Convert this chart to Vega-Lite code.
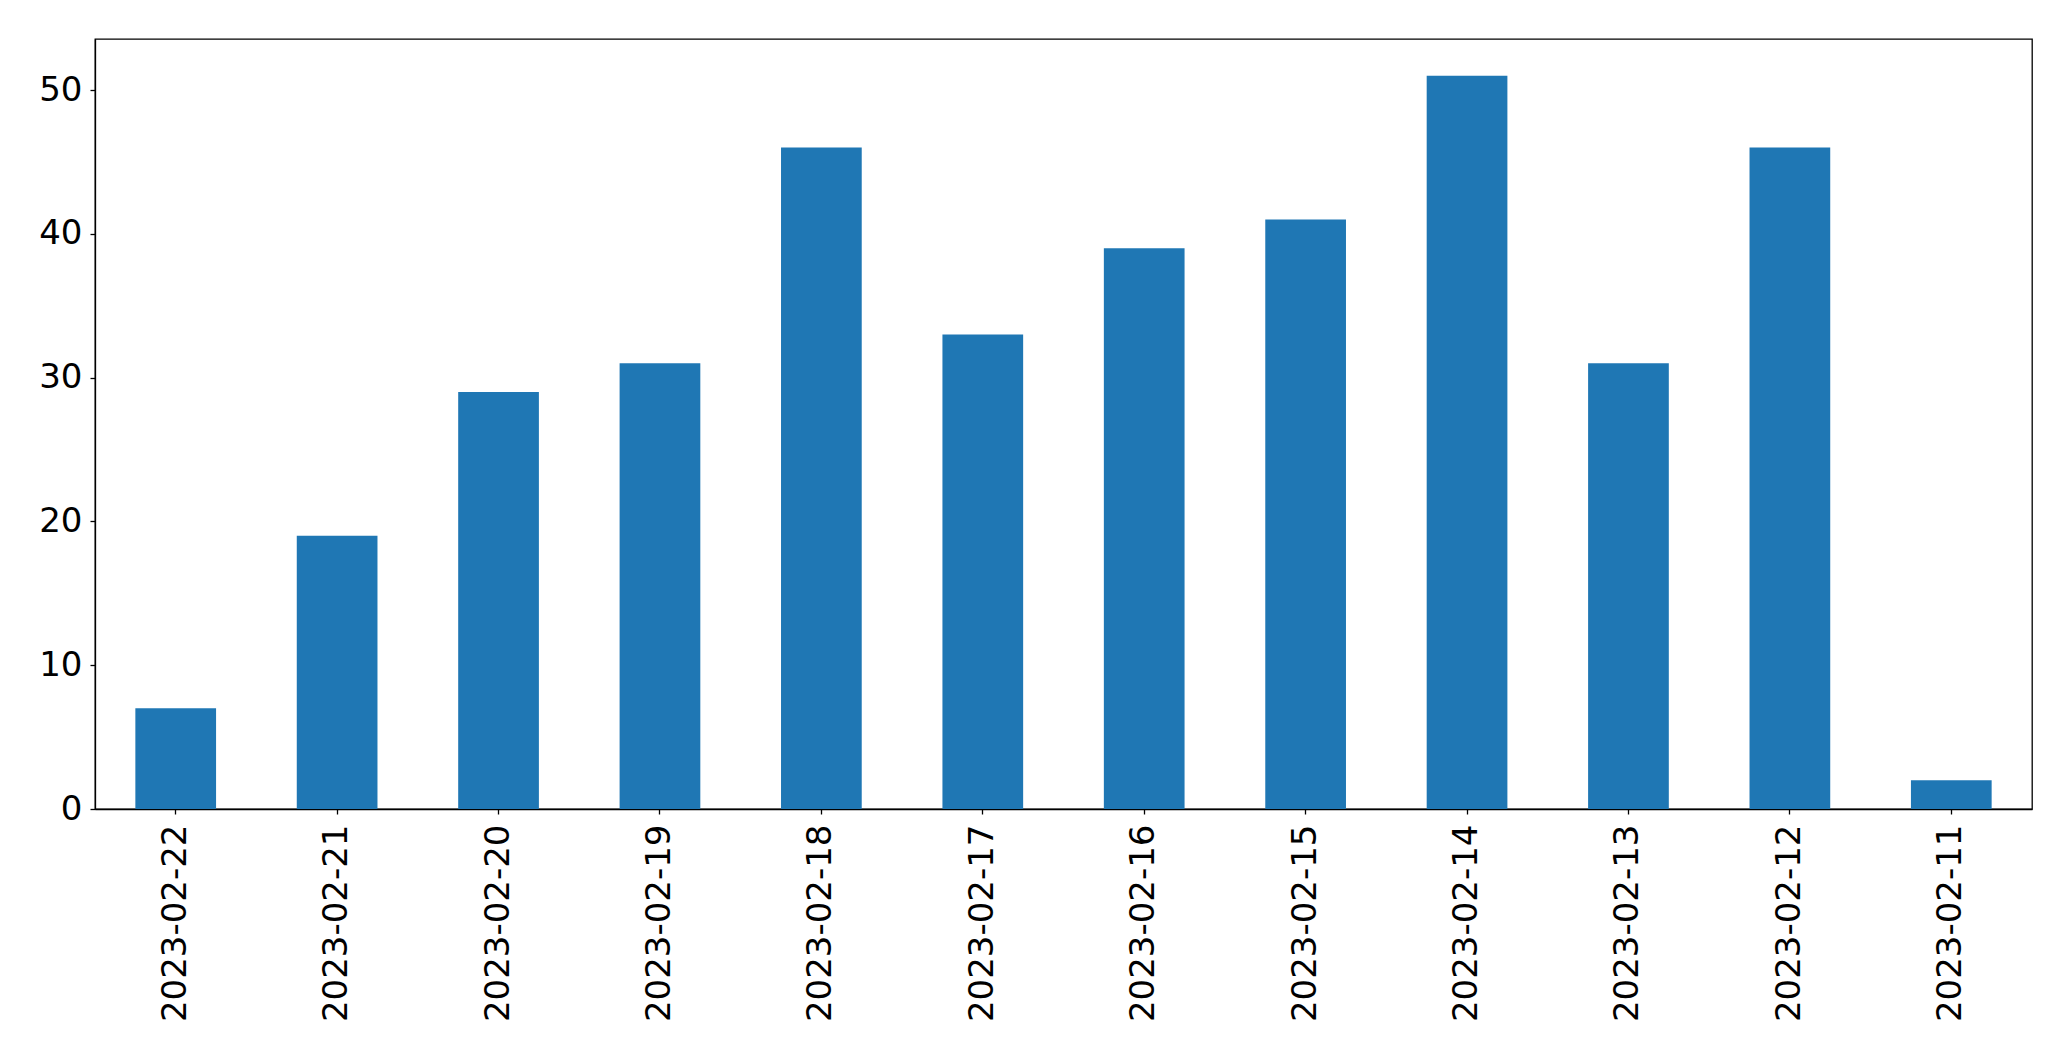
{
  "$schema": "https://vega.github.io/schema/vega-lite/v6.json",
  "width": 1937,
  "height": 770,
  "autosize": "none",
  "padding": {"left": 95, "top": 39, "right": 39, "bottom": 252},
  "background": "white",
  "config": {
    "view": {"stroke": "black", "strokeWidth": 1.3},
    "axis": {"labelFont": "DejaVu Sans", "labelFontSize": 34, "labelColor": "black", "labelLimit": 0, "tickColor": "black", "domainColor": "black", "tickSize": 5, "tickWidth": 1.3, "domainWidth": 1.3, "labelPadding": 8, "grid": false, "title": null}
  },
  "data": {"values": [
    {"date": "2023-02-22", "count": 7},
    {"date": "2023-02-21", "count": 19},
    {"date": "2023-02-20", "count": 29},
    {"date": "2023-02-19", "count": 31},
    {"date": "2023-02-18", "count": 46},
    {"date": "2023-02-17", "count": 33},
    {"date": "2023-02-16", "count": 39},
    {"date": "2023-02-15", "count": 41},
    {"date": "2023-02-14", "count": 51},
    {"date": "2023-02-13", "count": 31},
    {"date": "2023-02-12", "count": 46},
    {"date": "2023-02-11", "count": 2}
  ]},
  "mark": {"type": "bar", "color": "#1f77b4"},
  "encoding": {
    "x": {"field": "date", "type": "nominal", "sort": null,
      "scale": {"paddingInner": 0.5, "paddingOuter": 0.25},
      "axis": {"labelAngle": 270, "labelAlign": "right", "labelBaseline": "middle", "labelPadding": 10}},
    "y": {"field": "count", "type": "quantitative",
      "scale": {"domain": [0, 53.55], "nice": false, "zero": true},
      "axis": {"values": [0, 10, 20, 30, 40, 50]}}
  }
}
